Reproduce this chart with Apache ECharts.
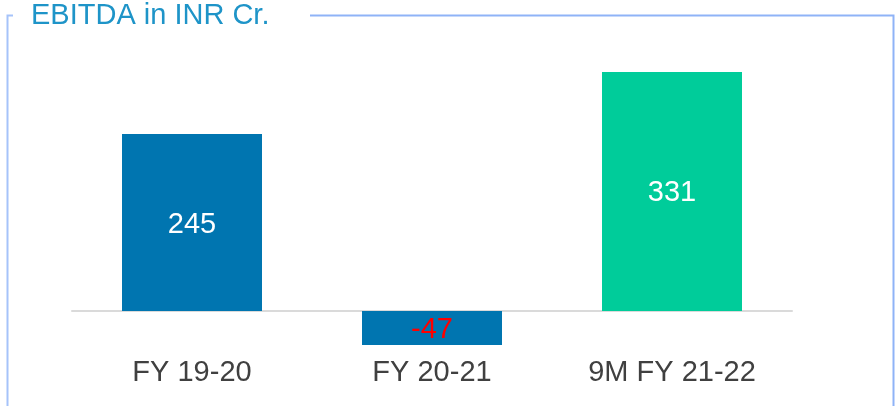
<!DOCTYPE html>
<html>
<head>
<meta charset="utf-8">
<script src="https://cdn.jsdelivr.net/npm/echarts@6/dist/echarts.min.js"></script>
<style>
  html, body { margin: 0; padding: 0; background: #fff; }
  #chart { width: 895px; height: 406px; }
</style>
</head>
<body>
<div id="chart"></div>
<script>
// categories and values (INR Cr.)
var categories = ["FY 19-20", "FY 20-21", "9M FY 21-22"];
var ebitda = [245, -47, 331];
var barColors = ["#0075B0", "#0075B0", "#00CC9A"];
var labelColors = ["#ffffff", "#ff0000", "#ffffff"];

var myChart = echarts.init(document.getElementById("chart"));

var option = {
  backgroundColor: "#ffffff",
  animation: false,
  textStyle: { fontFamily: "Liberation Sans, Arial, sans-serif" },
  grid: {
    left: 72,
    right: 103,
    top: 22.1,
    height: 325,
    containLabel: false,
    outerBoundsMode: "none"
  },
  xAxis: {
    type: "category",
    data: categories,
    axisLine: {
      onZero: true,
      lineStyle: { color: "#dadada", width: 2 }
    },
    axisTick: { show: false },
    axisLabel: {
      color: "#404040",
      fontSize: 29,
      margin: 11,
      interval: 0
    }
  },
  yAxis: {
    type: "value",
    min: -50,
    max: 400,
    show: false
  },
  series: [
    {
      type: "bar",
      barWidth: 140,
      data: ebitda.map(function (v, i) {
        return {
          value: v,
          itemStyle: { color: barColors[i] },
          label: { color: labelColors[i] }
        };
      }),
      label: {
        show: true,
        position: "inside",
        offset: [0, 2],
        fontSize: 29,
        fontFamily: "Liberation Sans, Arial, sans-serif"
      }
    }
  ],
  graphic: [
    // frame around chart, broken by the title
    {
      type: "polyline",
      shape: { points: [[13, 15.5], [7.5, 15.5], [7.5, 420]] },
      style: { stroke: "#a6c3fa", lineWidth: 2, fill: null }
    },
    {
      type: "polyline",
      shape: { points: [[310, 15.5], [893.5, 15.5], [893.5, 420]] },
      style: { stroke: "#8fb3f7", lineWidth: 2, fill: null }
    },
    {
      type: "text",
      left: 31,
      top: 1,
      style: {
        text: "EBITDA in INR Cr.",
        fill: "#1E94C8",
        fontSize: 29,
        fontFamily: "Liberation Sans, Arial, sans-serif"
      }
    }
  ]
};

myChart.setOption(option);
</script>
</body>
</html>
